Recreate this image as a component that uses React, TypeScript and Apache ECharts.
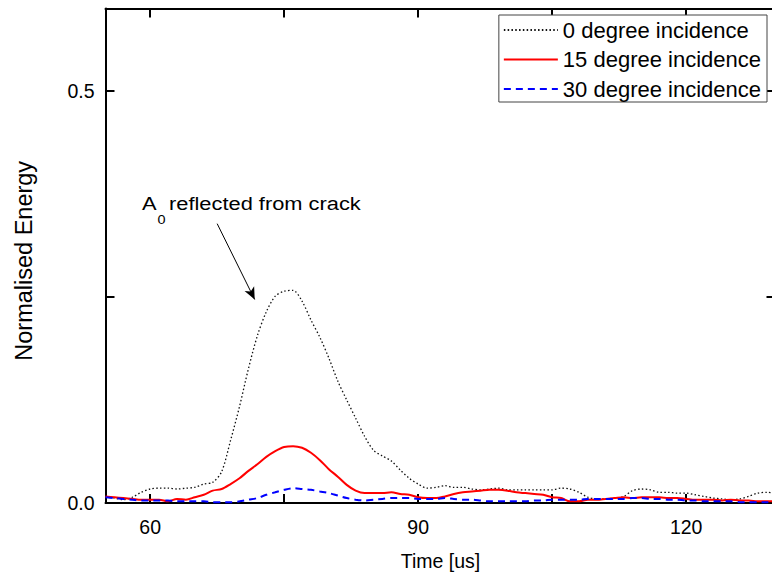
import React, { useEffect, useRef } from "react";
import * as echarts from "echarts";

const FONT = "'Liberation Sans', Arial, Helvetica, sans-serif";

// Time axis samples [us]
const time = [
  55, 56, 57, 58, 59, 60, 61, 62, 63, 64,
  65, 66, 67, 68, 69, 70, 71, 72, 73, 74,
  75, 76, 77, 78, 79, 80, 81, 82, 83, 84,
  85, 86, 87, 88, 89, 90, 91, 92, 93, 94,
  95, 96, 97, 98, 99, 100, 101, 102, 103, 104,
  105, 106, 107, 108, 109, 110, 111, 112, 113, 114,
  115, 116, 117, 118, 119, 120, 121, 122, 123, 124,
  125, 126, 127, 128, 129, 130,
];

// 0 degree incidence (black dotted)
const deg0 = [
  0.007, 0.006, 0.004, 0.007, 0.013, 0.017, 0.018, 0.018, 0.017, 0.018,
  0.019, 0.023, 0.025, 0.038, 0.076, 0.117, 0.163, 0.203, 0.232, 0.251,
  0.257, 0.258, 0.245, 0.222, 0.201, 0.176, 0.148, 0.125, 0.103, 0.081,
  0.064, 0.057, 0.051, 0.040, 0.030, 0.023, 0.018, 0.019, 0.021, 0.019,
  0.019, 0.017, 0.016, 0.017, 0.018, 0.016, 0.016, 0.016, 0.016, 0.016,
  0.016, 0.018, 0.017, 0.013, 0.007, 0.005, 0.005, 0.006, 0.008, 0.015,
  0.017, 0.016, 0.013, 0.013, 0.012, 0.012, 0.010, 0.008, 0.006, 0.005,
  0.004, 0.005, 0.008, 0.012, 0.013, 0.012,
];

// 15 degree incidence (red solid)
const deg15 = [
  0.008, 0.007, 0.006, 0.005, 0.004, 0.004, 0.004, 0.002, 0.005, 0.004,
  0.007, 0.010, 0.015, 0.017, 0.023, 0.030, 0.039, 0.047, 0.056, 0.063,
  0.068, 0.069, 0.067, 0.061, 0.052, 0.041, 0.032, 0.022, 0.015, 0.012,
  0.012, 0.012, 0.013, 0.011, 0.010, 0.007, 0.006, 0.006, 0.008, 0.011,
  0.013, 0.014, 0.015, 0.016, 0.016, 0.015, 0.013, 0.012, 0.011, 0.010,
  0.007, 0.006, 0.002, 0.002, 0.004, 0.004, 0.005, 0.006, 0.007, 0.006,
  0.007, 0.007, 0.007, 0.006, 0.006, 0.005, 0.004, 0.004, 0.004, 0.003,
  0.004, 0.003, 0.003, 0.002, 0.002, 0.002,
];

// 30 degree incidence (blue dashed)
const deg30 = [
  0.007, 0.006, 0.005, 0.004, 0.003, 0.003, 0.003, 0.003, 0.002, 0.002,
  0.002, 0.002, 0.001, 0.001, 0.001, 0.002, 0.004, 0.006, 0.010, 0.013,
  0.016, 0.018, 0.017, 0.016, 0.014, 0.012, 0.009, 0.006, 0.004, 0.003,
  0.004, 0.005, 0.006, 0.006, 0.006, 0.005, 0.005, 0.005, 0.006, 0.005,
  0.004, 0.004, 0.003, 0.002, 0.002, 0.002, 0.002, 0.002, 0.003, 0.003,
  0.004, 0.004, 0.004, 0.004, 0.005, 0.005, 0.005, 0.005, 0.005, 0.006,
  0.006, 0.005, 0.005, 0.004, 0.004, 0.003, 0.003, 0.002, 0.002, 0.002,
  0.002, 0.001, 0.001, 0.001, 0.001, 0.001,
];

const seriesNames = ["0 degree incidence", "15 degree incidence", "30 degree incidence"];

const xTicks = [60, 75, 90, 105, 120];
const xLabels = [60, 90, 120];
const yTicks = [0, 0.25, 0.5];
const yLabels = [0, 0.5];

// Annotation arrow (data coordinates): from text towards the peak
const arrowFrom = [67.5, 0.339];
const arrowTo = [71.7, 0.247];

export default function App() {
  const ref = useRef<HTMLDivElement>(null);

  useEffect(() => {
    const el = ref.current;
    if (!el) return;
    const chart = echarts.init(el, null, { renderer: "svg" });
    const mk = (vals: number[]) => time.map((t, i) => [t, vals[i]]);

    const axisLine = { show: true, onZero: false, lineStyle: { color: "#000", width: 2 } };
    const tickStyle = { color: "#000", width: 2 };
    const labelStyle = { color: "#000", fontSize: 19.5, fontFamily: FONT };
    const txt = (text: string, fontSize: number) => ({
      text,
      fontSize,
      fontFamily: FONT,
      fill: "#000",
      align: "left",
      verticalAlign: "middle",
      textAlign: "left",
      textVerticalAlign: "middle",
    });

    chart.setOption({
      animation: false,
      backgroundColor: "#fff",
      grid: {
        left: 105.5,
        top: 8.6,
        width: 670,
        height: 494.4,
        containLabel: false,
        outerBoundsMode: "none",
      },
      legend: {
        data: seriesNames,
        orient: "vertical",
        right: 5,
        top: 15,
        itemWidth: 54,
        itemHeight: 14,
        itemGap: 7.5,
        padding: [4, 6, 2, 4],
        borderColor: "#444",
        borderWidth: 1,
        borderRadius: 0,
        backgroundColor: "#fff",
        itemStyle: { opacity: 0, color: "transparent", borderWidth: 0 },
        textStyle: { color: "#000", fontSize: 22, fontFamily: FONT },
        selectedMode: false,
      },
      xAxis: [
        {
          type: "value",
          position: "bottom",
          min: 55,
          max: 130,
          axisLine,
          axisTick: { show: true, inside: true, length: 9, lineStyle: tickStyle, customValues: xTicks },
          axisLabel: { ...labelStyle, margin: 14, customValues: xLabels, formatter: (v: number) => String(v) },
          splitLine: { show: false },
          name: "Time [us]",
          nameLocation: "middle",
          nameGap: 48,
          nameTextStyle: { color: "#000", fontSize: 19.5, fontFamily: FONT },
        },
        {
          type: "value",
          position: "top",
          min: 55,
          max: 130,
          axisLine,
          axisTick: { show: true, inside: true, length: 9, lineStyle: tickStyle, customValues: xTicks },
          axisLabel: { show: false },
          splitLine: { show: false },
        },
      ],
      yAxis: [
        {
          type: "value",
          position: "left",
          min: 0,
          max: 0.6,
          axisLine,
          axisTick: { show: true, inside: true, length: 9, lineStyle: tickStyle, customValues: yTicks },
          axisLabel: { ...labelStyle, margin: 11, customValues: yLabels, formatter: (v: number) => v.toFixed(1) },
          splitLine: { show: false },
          name: "Normalised Energy",
          nameLocation: "middle",
          nameGap: 70,
          nameTextStyle: { color: "#000", fontSize: 23.5, fontFamily: FONT, padding: [0, 10, 0, 0] },
        },
        {
          type: "value",
          position: "right",
          min: 0,
          max: 0.6,
          axisLine,
          axisTick: { show: true, inside: true, length: 9, lineStyle: tickStyle, customValues: yTicks },
          axisLabel: { show: false },
          splitLine: { show: false },
        },
      ],
      series: [
        {
          name: seriesNames[0],
          type: "line",
          data: mk(deg0),
          symbol: "none",
          showSymbol: false,
          smooth: 0.3,
          emphasis: { disabled: true },
          itemStyle: { color: "#000" },
          lineStyle: { color: "#111", width: 1.3, type: [1.5, 2.3] },
          markLine: {
            silent: true,
            symbol: ["none", "arrow"],
            symbolSize: [8, 12],
            label: { show: false },
            lineStyle: { color: "#000", width: 1, type: "solid" },
            emphasis: { disabled: true },
            data: [[{ coord: arrowFrom }, { coord: arrowTo }]],
          },
        },
        {
          name: seriesNames[1],
          type: "line",
          data: mk(deg15),
          symbol: "none",
          showSymbol: false,
          smooth: 0.3,
          emphasis: { disabled: true },
          itemStyle: { color: "#ff0000" },
          lineStyle: { color: "#ff0000", width: 2 },
        },
        {
          name: seriesNames[2],
          type: "line",
          data: mk(deg30),
          symbol: "none",
          showSymbol: false,
          smooth: 0.3,
          emphasis: { disabled: true },
          itemStyle: { color: "#0000ff" },
          lineStyle: { color: "#0000ff", width: 2, type: [7, 5] },
        },
      ],
      graphic: [
        { type: "text", x: 142, y: 203.5, scaleX: 1.15, style: txt("A", 19) },
        { type: "text", x: 157.5, y: 219.5, scaleX: 1.15, style: txt("0", 12.6) },
        { type: "text", x: 169, y: 203.5, scaleX: 1.15, style: txt("reflected from crack", 19) },
      ],
    });

    return () => chart.dispose();
  }, []);

  return (
    <div
      ref={ref}
      style={{ position: "fixed", left: 0, top: 0, width: 772, height: 577, background: "#fff" }}
    />
  );
}
